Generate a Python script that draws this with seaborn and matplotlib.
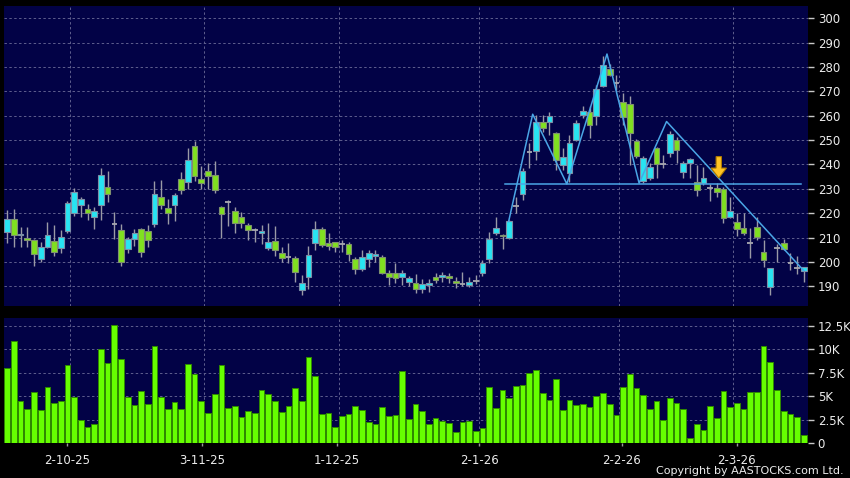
import numpy as np
import pandas as pd
import matplotlib
matplotlib.use('Agg')
import matplotlib.pyplot as plt
from matplotlib.patches import FancyArrow
import seaborn as sns

# dados diarios
opens = [212.2, 217.5, 211.0, 209.8, 209.0, 201.1, 206.3, 208.5, 205.5, 212.6,
         220.0, 223.5, 221.6, 218.6, 223.5, 230.6, 215.6, 213.1, 205.2, 209.3,
         213.4, 212.6, 215.5, 226.5, 222.0, 223.5, 233.9, 232.7, 247.6, 233.9,
         237.5, 235.6, 222.7, 224.5, 220.8, 218.3, 215.3, 212.9, 211.8, 205.6,
         208.5, 203.8, 201.9, 201.5, 188.5, 193.7, 207.7, 213.7, 207.9, 208.3,
         207.3, 207.3, 201.1, 197.0, 201.1, 202.5, 202.2, 195.6, 195.6, 193.7,
         191.9, 191.5, 188.8, 190.6, 193.7, 193.7, 194.2, 192.3, 191.0, 190.4,
         192.2, 195.4, 201.1, 211.8, 211.2, 209.7, 223.0, 227.9, 244.9, 245.3,
         257.6, 257.6, 252.8, 239.8, 236.4, 250.1, 260.1, 261.7, 259.9, 272.2,
         279.3, 273.3, 265.8, 264.7, 249.4, 233.0, 234.3, 246.6, 240.2, 244.6,
         250.1, 236.8, 240.5, 232.6, 232.3, 230.2, 230.5, 229.8, 218.6, 216.3,
         213.8, 207.9, 214.2, 204.2, 189.6, 205.6, 207.9, 199.5, 197.4, 196.4]
highs = [221.3, 221.6, 214.2, 214.2, 209.3, 208.0, 216.4, 215.2, 213.1, 224.8,
         230.2, 226.8, 223.8, 222.7, 238.4, 237.3, 220.5, 215.6, 210.1, 213.4,
         213.8, 215.1, 233.2, 233.7, 225.7, 228.2, 236.7, 246.8, 249.5, 239.5,
         240.5, 241.3, 222.9, 225.2, 222.7, 220.5, 215.9, 213.8, 215.1, 215.9,
         214.8, 206.0, 207.7, 202.5, 194.7, 206.6, 216.6, 214.2, 211.8, 208.3,
         209.0, 208.3, 202.2, 204.9, 204.9, 204.9, 202.9, 196.7, 199.5, 196.7,
         194.2, 195.1, 192.9, 192.9, 195.6, 196.0, 195.4, 194.0, 196.0, 194.0,
         194.7, 200.8, 212.4, 218.3, 211.6, 217.2, 226.8, 238.4, 248.7, 260.3,
         260.3, 261.7, 253.5, 246.6, 252.1, 258.3, 264.0, 264.0, 272.6, 284.3,
         281.1, 276.7, 269.2, 267.9, 250.3, 243.5, 240.5, 247.3, 243.9, 253.9,
         251.2, 241.2, 242.5, 239.8, 238.8, 232.0, 232.3, 230.6, 226.5, 220.2,
         220.0, 213.8, 218.6, 208.8, 197.6, 207.3, 209.3, 203.6, 202.5, 198.1]
lows = [207.7, 206.0, 206.0, 206.3, 198.5, 200.1, 205.6, 202.5, 203.8, 211.8,
        218.9, 218.6, 217.0, 213.4, 217.0, 224.4, 209.3, 198.5, 203.8, 206.6,
        201.9, 206.3, 214.5, 221.9, 215.6, 216.6, 227.9, 229.8, 233.0, 229.8,
        229.8, 228.2, 209.7, 214.8, 211.8, 213.8, 208.8, 208.0, 207.4, 204.7,
        202.5, 200.1, 199.5, 191.9, 186.5, 188.8, 204.9, 206.0, 204.9, 204.2,
        204.2, 200.5, 195.1, 196.4, 198.1, 200.1, 195.1, 190.6, 191.2, 190.6,
        190.2, 187.4, 187.4, 187.8, 191.2, 191.9, 191.2, 189.2, 190.2, 189.6,
        191.0, 194.3, 199.5, 211.1, 205.2, 209.3, 220.0, 225.4, 238.4, 241.9,
        253.5, 252.1, 237.8, 237.8, 232.6, 249.4, 259.0, 250.8, 256.2, 271.7,
        276.3, 270.6, 256.2, 239.8, 242.5, 232.3, 233.7, 234.3, 238.4, 243.2,
        240.5, 234.3, 234.3, 227.1, 231.6, 224.8, 226.8, 215.9, 217.9, 210.7,
        211.1, 201.5, 209.0, 197.8, 186.5, 200.1, 204.9, 196.7, 195.1, 191.9]
closes = [217.5, 211.1, 211.6, 209.0, 203.1, 206.0, 210.9, 204.2, 210.1, 224.1,
          228.6, 225.7, 220.2, 220.8, 235.6, 227.8, 215.6, 200.1, 209.3, 211.8,
          204.2, 209.0, 227.8, 223.2, 220.2, 227.4, 229.3, 241.7, 235.4, 232.3,
          235.4, 229.5, 219.7, 224.5, 216.1, 215.9, 212.9, 212.9, 212.6, 208.3,
          204.7, 201.5, 201.9, 196.0, 191.5, 202.7, 213.4, 207.0, 206.6, 206.0,
          207.3, 203.1, 197.0, 202.2, 203.6, 203.1, 195.6, 193.7, 193.3, 195.4,
          193.3, 188.8, 191.0, 191.4, 192.6, 194.5, 193.3, 191.2, 191.0, 191.8,
          192.2, 199.5, 209.3, 214.1, 210.7, 216.6, 223.0, 237.5, 244.9, 257.6,
          255.1, 259.8, 241.9, 243.2, 248.7, 256.9, 262.1, 256.0, 270.9, 280.7,
          276.7, 273.3, 259.6, 252.8, 243.5, 242.5, 239.1, 240.2, 240.2, 252.4,
          246.0, 240.5, 242.1, 229.5, 234.3, 230.2, 228.6, 217.9, 220.7, 213.4,
          211.8, 207.9, 210.1, 200.8, 197.4, 205.6, 205.2, 199.5, 197.4, 197.8]
# volume em milhares
volume_k = [7.99, 10.9, 4.55, 3.69, 5.43, 3.55, 5.97, 4.33, 4.51, 8.31,
            4.97, 2.49, 1.70, 2.02, 10.0, 8.52, 12.6, 8.95, 4.97, 4.08,
            5.58, 4.23, 10.4, 4.94, 3.66, 4.40, 3.69, 8.42, 7.42, 4.51,
            3.23, 5.22, 8.31, 3.76, 4.01, 2.84, 3.41, 3.23, 5.65, 5.29,
            4.51, 3.30, 4.01, 5.86, 4.55, 9.16, 7.21, 3.09, 3.20, 1.74,
            2.95, 3.13, 3.98, 3.55, 2.27, 2.06, 3.91, 2.95, 2.98, 7.74,
            2.59, 4.19, 3.41, 2.06, 2.70, 2.34, 2.13, 1.17, 2.31, 2.41,
            1.31, 1.67, 6.04, 3.80, 5.72, 4.83, 6.07, 6.25, 7.53, 7.78,
            5.40, 4.62, 6.85, 3.52, 4.62, 4.12, 4.19, 3.84, 5.01, 5.36,
            4.19, 3.05, 6.00, 7.42, 5.86, 5.11, 3.62, 4.51, 2.45, 4.83,
            4.26, 3.66, 0.53, 2.10, 1.46, 3.94, 2.73, 5.54, 3.87, 4.30,
            3.66, 5.47, 5.47, 10.37, 8.70, 5.68, 3.48, 3.13, 2.84, 0.92]

date_labels = ['2-10-25', '3-11-25', '1-12-25', '2-1-26', '2-2-26', '2-3-26']
label_pos = [9.0, 29.1, 49.3, 70.5, 91.8, 109.0]
grid_pos = [9.4, 29.4, 49.5, 70.5, 91.4, 108.5]

price_ticks = list(range(190, 301, 10))
vol_ticks = [0, 2.5, 5, 7.5, 10, 12.5]
vol_tick_labels = ['0', '2.5K', '5K', '7.5K', '10K', '12.5K']

# padrao desenhado (topo duplo / ombro-cabeca-ombro)
zigzag_x = [74.9, 78.5, 83.6, 89.6, 94.4, 98.5, 119.0]
zigzag_y = [216.5, 260.6, 232.0, 285.3, 232.3, 257.6, 196.4]
neckline_x = [74.4, 118.6]
neckline_y = [232.0, 232.0]
arrow_x, arrow_top, arrow_tip = 106.3, 243.2, 234.4

df = pd.DataFrame({'idx': np.arange(len(opens)), 'open': opens, 'high': highs,
                   'low': lows, 'close': closes, 'vol': volume_k})

navy = '#020246'
cyan = '#28e4f2'
green = '#80e020'
vgreen = '#66ff00'
gridc = '#5e5e8e'
txt = '#ececec'

plt.rcParams['font.family'] = ['DejaVu Sans']
fig = plt.figure(figsize=(8.5, 4.78), dpi=100, facecolor='black')
W, H = 850, 478
ax1 = fig.add_axes([4 / W, 1 - 306 / H, 804 / W, 300 / H], facecolor=navy)
ax2 = fig.add_axes([4 / W, 1 - 443.3 / H, 804 / W, 125.3 / H], facecolor=navy)

xlim = (-0.48, 119.63)

# --- candles ---
up = df[df['close'] > df['open']]
down = df[df['close'] < df['open']]
doji = df[df['close'] == df['open']]

ax1.vlines(df['idx'], df['low'], df['high'], color='#9a9aa6', lw=1, zorder=2)
ax1.bar(up['idx'], up['close'] - up['open'], bottom=up['open'], width=0.85,
        color=cyan, edgecolor='#7d8fa6', linewidth=0.8, zorder=3)
ax1.bar(down['idx'], down['open'] - down['close'], bottom=down['close'], width=0.85,
        color=green, edgecolor='#7f9070', linewidth=0.8, zorder=3)
ax1.hlines(doji['open'], doji['idx'] - 0.42, doji['idx'] + 0.42,
           color='#a8a8b0', lw=1.3, zorder=3)

ax1.plot(zigzag_x, zigzag_y, color='#4aa6e6', lw=1.1, zorder=4)
ax1.plot(neckline_x, neckline_y, color='#4aa6e6', lw=1.1, zorder=4)
ax1.add_patch(FancyArrow(arrow_x, arrow_top, 0, arrow_tip - arrow_top, width=0.8,
                         head_width=2.3, head_length=4.1, length_includes_head=True,
                         fc='#ffc423', ec='#b07a00', lw=0.8, zorder=5))

ax1.set_xlim(*xlim)
ax1.set_ylim(181.9, 305.0)
ax1.set_yticks(price_ticks)
ax1.set_xticks([])
for p in price_ticks:
    ax1.axhline(p, color=gridc, lw=0.7, ls=(0, (2.5, 2.5)), zorder=1)
for g in grid_pos:
    ax1.axvline(g, color=gridc, lw=0.7, ls=(0, (2.5, 2.5)), zorder=1)

# --- volume ---
sns.barplot(data=df, x='idx', y='vol', native_scale=True, width=0.85,
            color=vgreen, saturation=1, edgecolor='#2f8a00', linewidth=0.7,
            errorbar=None, ax=ax2, zorder=3)
ax2.set_xlim(*xlim)
ax2.set_ylim(0, 13.33)
ax2.set_yticks(vol_ticks)
ax2.set_yticklabels(vol_tick_labels)
ax2.set_xticks(label_pos)
ax2.set_xticklabels(date_labels)
ax2.set_xlabel('')
ax2.set_ylabel('')
for v in vol_ticks[1:]:
    ax2.axhline(v, color=gridc, lw=0.7, ls=(0, (2.5, 2.5)), zorder=1)
for g in grid_pos:
    ax2.axvline(g, color=gridc, lw=0.7, ls=(0, (2.5, 2.5)), zorder=1)

for ax in (ax1, ax2):
    ax.grid(False)
    for s in ax.spines.values():
        s.set_visible(False)
    ax.yaxis.tick_right()
    ax.tick_params(axis='y', colors='#c8c8c8', labelcolor=txt, labelsize=8.5,
                   length=4, width=1, pad=3)
ax2.tick_params(axis='x', colors='#9a9a9a', labelcolor=txt, labelsize=8.5,
                length=2.5, width=1, pad=5)

fig.text(844 / W, 1 - 471 / H, 'Copyright by AASTOCKS.com Ltd.', ha='right',
         va='center', fontsize=8, color=txt)

fig.savefig('out.png', dpi=100, facecolor='black')
